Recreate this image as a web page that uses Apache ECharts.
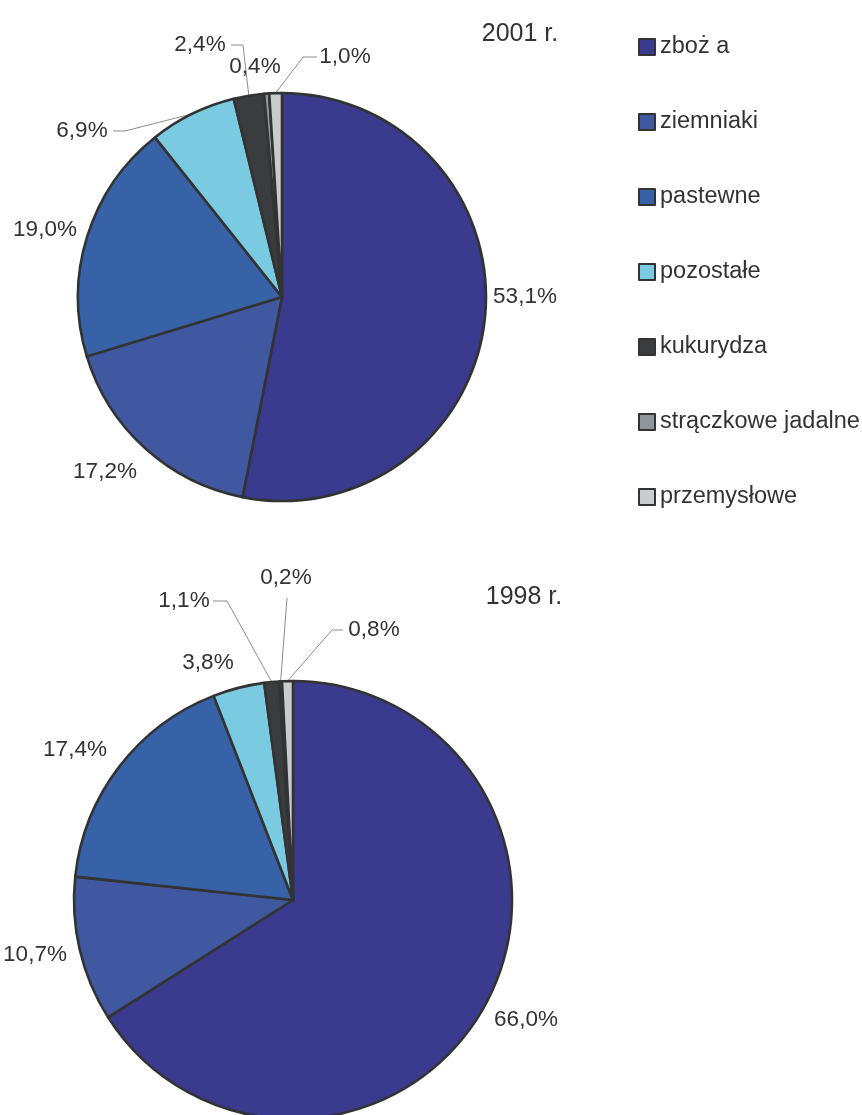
<!DOCTYPE html>
<html>
<head>
<meta charset="utf-8">
<script src="https://cdn.jsdelivr.net/npm/echarts@6/dist/echarts.min.js"></script>
<style>
html,body{margin:0;padding:0;background:#fff;}
#c{width:862px;height:1115px;}
</style>
</head>
<body>
<div id="c"></div>
<script>
// ---- data ----
var categories = ['zboż a', 'ziemniaki', 'pastewne', 'pozostałe', 'kukurydza', 'strączkowe jadalne', 'przemysłowe'];
var values2001 = [53.1, 17.2, 19.0, 6.9, 2.4, 0.4, 1.0];
var values1998 = [66.0, 10.7, 17.4, 3.8, 1.1, 0.2, 0.8];
var titles = ['2001 r.', '1998 r.'];

// ---- styles / layout ----
var colors = ['#3A3A8F', '#3F58A0', '#3862A8', '#7ACAE2', '#3B3C3E', '#8F9598', '#C9CCCD'];
var textColor = '#333333';
var fontFam = '"Liberation Sans", Arial, sans-serif';

// label centre positions and optional leader elbow/end points, per slice
var labels2001 = [
  {x: 525, y: 297},
  {x: 105, y: 472},
  {x: 45,  y: 230},
  {x: 82,  y: 131, line: [[125, 131], [113, 131]]},
  {x: 200, y: 45,  line: [[243, 45], [231, 45]]},
  {x: 255, y: 67},
  {x: 345, y: 57,  line: [[303, 57], [317, 57]]}
];
var labels1998 = [
  {x: 526, y: 1020},
  {x: 35,  y: 955},
  {x: 75,  y: 750},
  {x: 208, y: 663},
  {x: 184, y: 601, line: [[227, 601], [213, 601]]},
  {x: 286, y: 578, line: [[287, 598]]},
  {x: 374, y: 630, line: [[332, 630], [343, 630]]}
];

function fmt(v) { return v.toFixed(1).replace('.', ',') + '%'; }

function buildData(vals, lbls) {
  return vals.map(function (v, i) {
    return {
      name: categories[i],
      value: v,
      itemStyle: {color: colors[i]},
      labelLine: {show: !!lbls[i].line}
    };
  });
}

function makeSeries(vals, lbls, center, radius) {
  return {
    type: 'pie',
    center: center,
    radius: radius,
    startAngle: 90,
    clockwise: true,
    avoidLabelOverlap: false,
    animation: false,
    emphasis: {disabled: true},
    data: buildData(vals, lbls),
    itemStyle: {borderColor: '#333333', borderWidth: 2.6},
    label: {
      show: true,
      position: 'outside',
      formatter: function (p) { return fmt(p.value); },
      color: textColor,
      fontSize: 22.5,
      fontFamily: fontFam
    },
    labelLine: {show: true, length: 10, length2: 10, lineStyle: {color: '#808080', width: 0.9}},
    labelLayout: function (params) {
      var l = lbls[params.dataIndex];
      var out = {x: l.x, y: l.y, align: 'center', verticalAlign: 'middle'};
      if (l.line && params.labelLinePoints) {
        out.labelLinePoints = [params.labelLinePoints[0]].concat(l.line);
      }
      return out;
    }
  };
}

var chart = echarts.init(document.getElementById('c'), null, {renderer: 'canvas'});
chart.setOption({
  backgroundColor: '#ffffff',
  animation: false,
  title: [
    {text: titles[0], left: 515, top: 29, textAlign: 'center', textVerticalAlign: 'middle',
     textStyle: {color: textColor, fontSize: 25, fontWeight: 'normal', fontFamily: fontFam}},
    {text: titles[1], left: 519, top: 592, textAlign: 'center', textVerticalAlign: 'middle',
     textStyle: {color: textColor, fontSize: 25, fontWeight: 'normal', fontFamily: fontFam}}
  ],
  legend: {
    orient: 'vertical',
    left: 633,
    top: 30,
    itemWidth: 16,
    itemHeight: 16,
    itemGap: 51,
    icon: 'rect',
    selectedMode: false,
    data: categories,
    itemStyle: {borderColor: '#333333', borderWidth: 2},
    textStyle: {color: textColor, fontSize: 23.5, fontFamily: fontFam}
  },
  series: [
    makeSeries(values2001, labels2001, [282, 297], 204),
    makeSeries(values1998, labels1998, [293, 900], 219)
  ]
});
</script>
</body>
</html>
